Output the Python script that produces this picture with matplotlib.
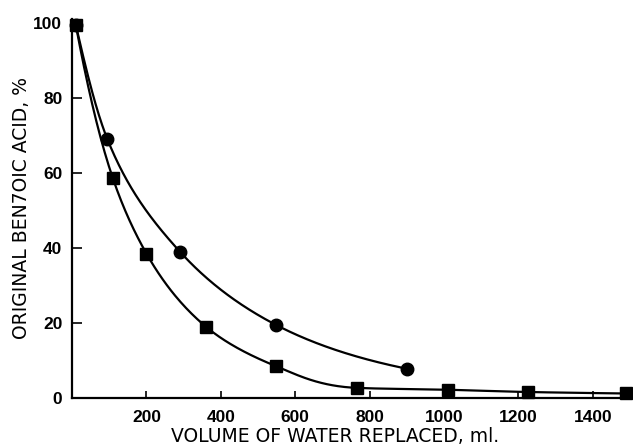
import numpy as np
import matplotlib
matplotlib.use("Agg")
import matplotlib.pyplot as plt

# circles
circ_x = [10, 95, 290, 548, 900]
circ_y = [99.5, 69, 39, 19.5, 7.8]
# squares
sq_x = [10, 110, 200, 360, 548, 765, 1010, 1225, 1490]
sq_y = [99.5, 58.5, 38.5, 19, 8.5, 2.7, 2.2, 1.6, 1.2]

xticks = [200, 400, 600, 800, 1000, 1200, 1400]
yticks = [0, 20, 40, 60, 80, 100]


def smooth(x, y, n=400):
    # monotone cubic (Fritsch-Carlson) on log(y), so the curve decays smoothly
    x = np.asarray(x, float)
    y = np.log(np.asarray(y, float))
    h = np.diff(x)
    d = np.diff(y) / h
    m = np.zeros(len(x))
    m[0] = d[0]
    m[-1] = d[-1]
    for k in range(1, len(x) - 1):
        if d[k - 1] * d[k] <= 0:
            m[k] = 0
        else:
            w1 = 2 * h[k] + h[k - 1]
            w2 = h[k] + 2 * h[k - 1]
            m[k] = (w1 + w2) / (w1 / d[k - 1] + w2 / d[k])
    xs = np.linspace(x[0], x[-1], n)
    i = np.clip(np.searchsorted(x, xs) - 1, 0, len(x) - 2)
    t = (xs - x[i]) / h[i]
    h00 = 2 * t**3 - 3 * t**2 + 1
    h10 = t**3 - 2 * t**2 + t
    h01 = -2 * t**3 + 3 * t**2
    h11 = t**3 - t**2
    ys = h00 * y[i] + h10 * h[i] * m[i] + h01 * y[i + 1] + h11 * h[i] * m[i + 1]
    return xs, np.exp(ys)


plt.rcParams['font.family'] = ['Liberation Sans', 'DejaVu Sans']

fig = plt.figure(figsize=(6.33, 4.47), dpi=100)
ax = fig.add_axes([72 / 633, 49 / 447, 561 / 633, 379 / 447])

cx, cy = smooth(circ_x, circ_y)
sx, sy = smooth(sq_x, sq_y)
ax.plot(cx, cy, color="black", lw=1.6, clip_on=False)
ax.plot(sx, sy, color="black", lw=1.6, clip_on=False)
ax.plot(circ_x, circ_y, "o", color="black", ms=9, clip_on=False, zorder=3)
ax.plot(sq_x, sq_y, "s", color="black", ms=8.5, clip_on=False, zorder=3)

ax.set_xlim(0, 1508)
ax.set_ylim(0, 101)
ax.set_xticks(xticks)
ax.set_yticks(yticks)
ax.tick_params(axis="x", direction="in", length=5, width=1.2, pad=9, labelsize=12.5)
ax.tick_params(axis="y", direction="in", length=7, width=1.2, pad=7, labelsize=12.5)
for lab in ax.get_xticklabels() + ax.get_yticklabels():
    lab.set_fontweight("bold")

for s in ["top", "right"]:
    ax.spines[s].set_visible(False)
for s in ["left", "bottom"]:
    ax.spines[s].set_linewidth(1.6)

fig.text(335 / 633, 1 - 437 / 447, "VOLUME OF WATER REPLACED, ml.", fontsize=13.5,
         family="DejaVu Sans", ha="center", va="center")
fig.text(22 / 633, 1 - 208 / 447, "ORIGINAL BEN7OIC ACID, %", fontsize=13.5,
         family="DejaVu Sans", ha="center", va="center", rotation=90)

fig.savefig("out.png", dpi=100)
